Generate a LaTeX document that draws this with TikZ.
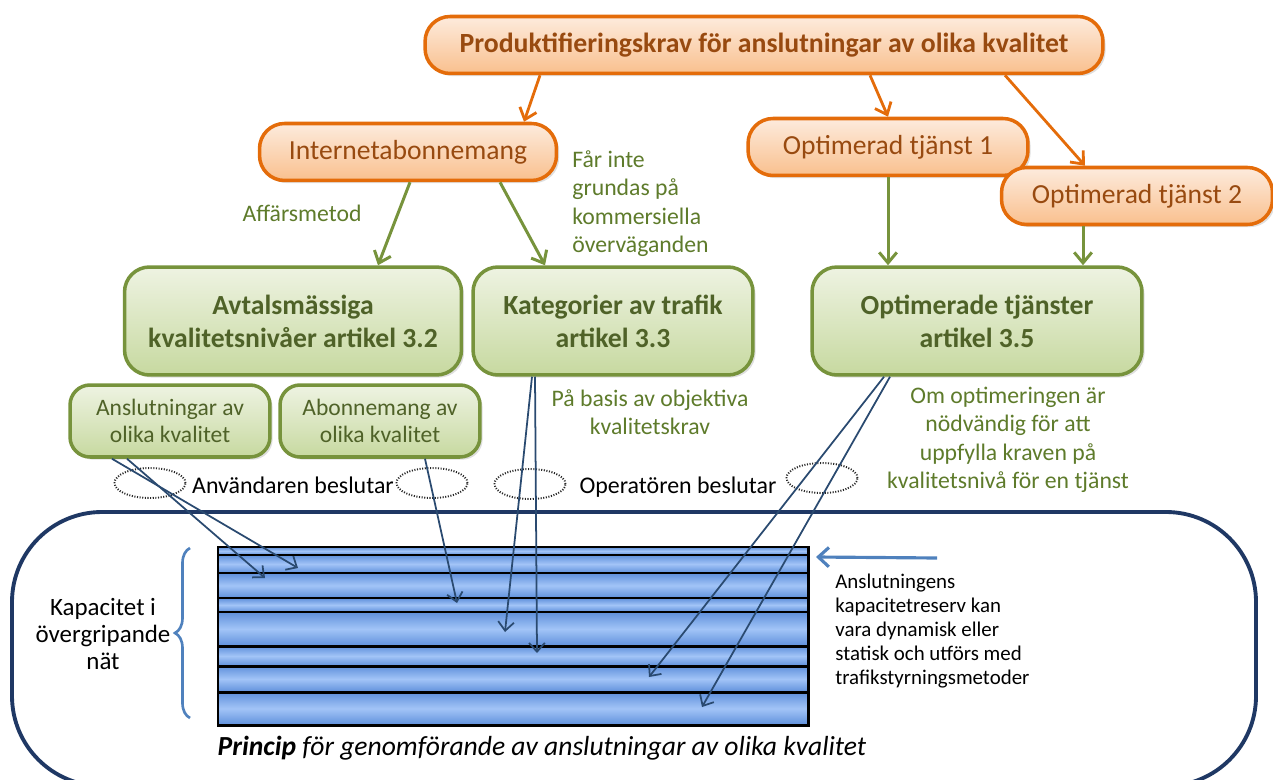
\documentclass[tikz,border=0pt]{standalone}
\usepackage{fontspec}
\setmainfont{Carlito}
\usetikzlibrary{arrows.meta,positioning,shapes.geometric,calc,shadows,decorations.pathreplacing}

\definecolor{orangeline}{HTML}{E46C0A}
\definecolor{orangetop}{HTML}{FDEBDD}
\definecolor{orangebot}{HTML}{F9C08E}
\definecolor{orangetext}{HTML}{984A10}
\definecolor{greenline}{HTML}{77933C}
\definecolor{greentop}{HTML}{EEF3E2}
\definecolor{greenbot}{HTML}{C7D9A0}
\definecolor{greentext}{HTML}{4F6228}
\definecolor{greenlabel}{HTML}{5E7B2B}
\definecolor{navy}{HTML}{1F3864}
\definecolor{arrownavy}{HTML}{2A4A70}
\definecolor{bandlight}{HTML}{A2C4F7}
\definecolor{banddark}{HTML}{5F90DB}
\definecolor{capblue}{HTML}{4F81BD}

\begin{document}
\begin{tikzpicture}[x=0.02cm,y=-0.02cm,>={Straight Barb[length=6pt,width=10pt]},
  orangebox/.style={draw=orangeline, line width=2pt, rounded corners=0.5cm, top color=orangetop, bottom color=orangebot,
    text=orangetext, inner sep=0pt, minimum height=1.14cm, font=\fontsize{15.7}{19}\selectfont,
    drop shadow={opacity=0.25,shadow xshift=1.5pt,shadow yshift=-1.5pt}},
  greenbox/.style={draw=greenline, line width=2pt, rounded corners=0.5cm, top color=greentop, bottom color=greenbot,
    text=greentext, inner sep=0pt, minimum height=2.16cm, align=center, font=\bfseries\fontsize{15.75}{18.8}\selectfont,
    drop shadow={opacity=0.25,shadow xshift=1.5pt,shadow yshift=-1.5pt}},
  smallbox/.style={greenbox, minimum width=4cm, minimum height=1.44cm, rounded corners=0.4cm, font=\fontsize{13.4}{15.5}\selectfont},
  greenlbl/.style={text=greenlabel, font=\fontsize{13.5}{16.2}\selectfont, inner sep=0pt},
  blacklbl/.style={text=black, font=\fontsize{13.6}{16}\selectfont, inner sep=0pt},
  orangearrow/.style={->, draw=orangeline, line width=1.6pt},
  greenarrow/.style={->, draw=greenline, line width=1.7pt},
  navyarrow/.style={->, draw=arrownavy, line width=1pt, >={Straight Barb[length=5pt,width=9pt]}},
  decide/.style={draw=black!85, dash pattern=on 0.6pt off 0.9pt, line width=1.1pt, ellipse, minimum width=1.42cm, minimum height=0.6cm, inner sep=0pt},
  band/.style={draw=black, line width=1.7pt, top color=banddark, bottom color=banddark, middle color=bandlight}]

\useasboundingbox (0,0) rectangle (1273,780);

% frame round the net
\draw[navy, line width=2.2pt, rounded corners=1.8cm] (12,512) rectangle (1256,786);

% capacity bands
\foreach \a/\b in {547/555, 555/573, 573/598, 598/612, 612/646, 646/666, 666/692, 692/725}
  \draw[band] (218,\a) rectangle (808,\b);
\coordinate (stackNE) at (808,557);

% top level
\node[orangebox, minimum width=13.56cm, font=\bfseries\fontsize{15.8}{19}\selectfont] (prod) at (764,45) {Produktifieringskrav för anslutningar av olika kvalitet};
\node[orangebox, minimum width=5.94cm] (inet) at (408,152) {Internetabonnemang};
\node[orangebox, minimum width=5.6cm] (opt1) at (888,147) {Optimerad tjänst 1};
\node[orangebox, minimum width=5.42cm] (opt2) at (1137,196) {Optimerad tjänst 2};

\draw[orangearrow] ($(prod.south)+(-224,0)$) -- ($(inet.north)+(116,0)$);
\draw[orangearrow] ($(prod.south)+(106,0)$) -- (opt1.north);
\draw[orangearrow] ($(prod.south)+(241,0)$) -- ($(opt2.north)+(-52,0)$);

% articles
\node[greenbox, minimum width=6.74cm] (avtal) at (293,321) {Avtalsmässiga\\kvalitetsnivåer artikel 3.2};
\node[greenbox, minimum width=5.6cm] (kat) at (613,321) {Kategorier av trafik\\artikel 3.3};
\node[greenbox, minimum width=6.6cm] (optsvc) at (977,321) {Optimerade tjänster\\artikel 3.5};

\draw[greenarrow] ($(inet.south)+(2,0)$) -- ($(avtal.north)+(85,0)$);
\draw[greenarrow] ($(inet.south)+(92,0)$) -- ($(kat.north)+(-68,0)$);
\draw[greenarrow] (opt1.south) -- ($(optsvc.north)+(-89,0)$);
\draw[greenarrow] ($(opt2.south)+(-54,0)$) -- ($(optsvc.north)+(106,0)$);

\node[greenlbl] (affar) at (302,213) {Affärsmetod};
\node[greenlbl, anchor=north west, align=left] (kommers) at (572,150) {Får inte\\grundas på\\kommersiella\\överväganden};
\node[greenlbl, align=center] (objektiv) at (650,412) {På basis av objektiva\\kvalitetskrav};
\node[greenlbl, align=center] (omopt) at (1008,440) {Om optimeringen är\\nödvändig för att\\uppfylla kraven på\\kvalitetsnivå för en tjänst};

\node[smallbox] (ansl) at (170,421) {Anslutningar av\\olika kvalitet};
\node[smallbox] (abon) at (380,421) {Abonnemang av\\olika kvalitet};

% who decides
\node[decide] (dec1) at (150,483) {};
\node[decide] (dec2) at (432,483) {};
\node[decide] (dec3) at (530,484) {};
\node[decide] (dec4) at (822,478) {};
\node[blacklbl] (anv) at (293,485) {Användaren beslutar};
\node[blacklbl] (oper) at (678,487) {Operatören beslutar};

% where the traffic goes
\coordinate (e1) at (265,578);
\coordinate (e2) at (298,568);
\coordinate (e3) at (457,603);
\coordinate (e4) at (505,632);
\coordinate (e5) at (537,653);
\coordinate (e6) at (649,677);
\coordinate (e7) at (702,707);
\draw[navyarrow] ($(ansl.south)+(-58,0)$) -- (e2);
\draw[navyarrow] ($(ansl.south)+(-43,0)$) -- (e1);
\draw[navyarrow] ($(abon.south)+(45,0)$) -- (e3);
\draw[navyarrow] ($(kat.south)+(-81,0)$) -- (e4);
\draw[navyarrow] ($(kat.south)+(-78,0)$) -- (e5);
\draw[navyarrow] ($(optsvc.south)+(-93,0)$) -- (e6);
\draw[navyarrow] ($(optsvc.south)+(-87,0)$) -- (e7);

% reserve
\coordinate (capfrom) at (937,558);
\draw[->, capblue, line width=1.8pt, >={Straight Barb[length=6pt,width=11pt]}] (capfrom) -- ($(stackNE)+(8,0)$);
\node[blacklbl, anchor=north west, align=left, font=\fontsize{11.9}{13.6}\selectfont] (reserv) at (835,574) {Anslutningens\\kapacitetreserv kan\\vara dynamisk eller\\statisk och utförs med\\trafikstyrningsmetoder};

% capacity brace
\draw[capblue, line width=1.5pt, decorate, decoration={brace, amplitude=0.3cm}] (190,718) -- (190,548);
\node[blacklbl, align=center, font=\fontsize{14.2}{15.4}\selectfont] (kapac) at (103,634) {Kapacitet i\\övergripande\\nät};

\node[blacklbl, font=\itshape\fontsize{15.7}{18}\selectfont] (princip) at (542,748) {\textbf{Princip} för genomförande av anslutningar av olika kvalitet};

\end{tikzpicture}
\end{document}
